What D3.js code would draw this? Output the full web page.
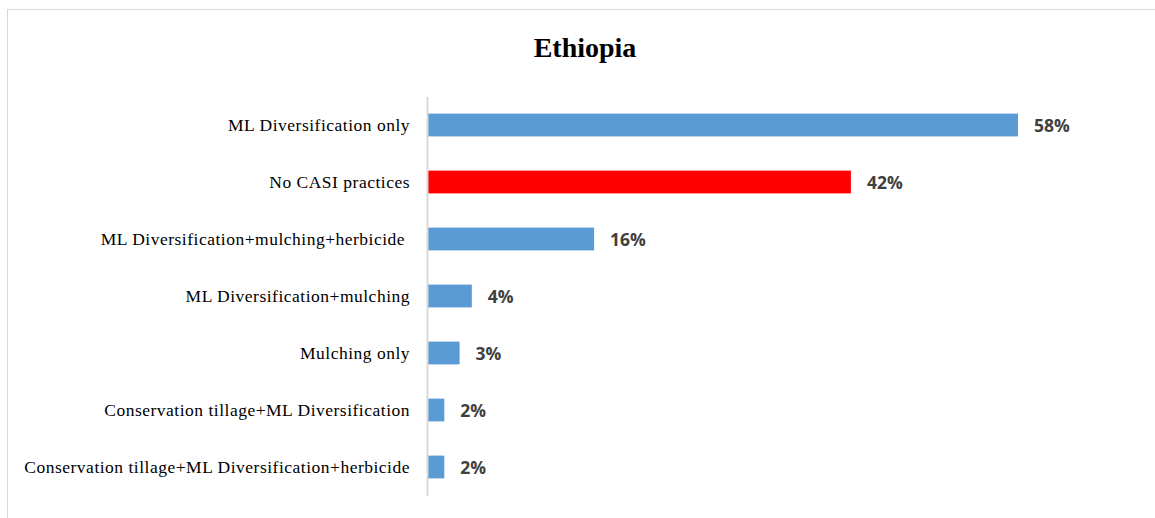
<!DOCTYPE html>
<html>
<head>
<meta charset="utf-8">
<script src="https://cdn.jsdelivr.net/npm/d3@7"></script>
<style>
  body { margin: 0; background: #fff; }
</style>
</head>
<body>
<svg id="chart" width="1155" height="518"></svg>
<script>
var categories = [
  "ML Diversification only",
  "No CASI practices",
  "ML Diversification+mulching+herbicide ",
  "ML Diversification+mulching",
  "Mulching only",
  "Conservation tillage+ML Diversification",
  "Conservation tillage+ML Diversification+herbicide"
];
var values = [58, 41.6, 16.4, 4.4, 3.2, 1.7, 1.7];
var valueLabels = ["58%", "42%", "16%", "4%", "3%", "2%", "2%"];
var barColors = ["#5b9bd5", "#ff0000", "#5b9bd5", "#5b9bd5", "#5b9bd5", "#5b9bd5", "#5b9bd5"];
var title = "Ethiopia";

var data = categories.map(function(c, i) {
  return { name: c, value: values[i], label: valueLabels[i], color: barColors[i] };
});

var svg = d3.select("#chart"),
    margin = {top: 96.5, right: 128, bottom: 22.5, left: 427},
    width = +svg.attr("width") - margin.left - margin.right,
    height = +svg.attr("height") - margin.top - margin.bottom;

// chart border
svg.append("rect")
    .attr("x", 7.5)
    .attr("y", 9.5)
    .attr("width", 1160)
    .attr("height", 520)
    .attr("fill", "#fff")
    .attr("stroke", "#d9d9d9")
    .attr("stroke-width", 1);

svg.append("text")
    .attr("x", 585)
    .attr("y", 57)
    .attr("text-anchor", "middle")
    .style("font-family", "'Liberation Serif', 'Times New Roman', serif")
    .style("font-weight", "bold")
    .style("font-size", "28px")
    .text(title);

var x = d3.scaleLinear().domain([0, 58]).range([0, 591]),
    y = d3.scaleBand().domain(categories).range([0, height]).paddingInner(0.6).paddingOuter(0.3);

var g = svg.append("g")
    .attr("transform", "translate(" + margin.left + "," + margin.top + ")");

// bars
g.selectAll(".bar")
    .data(data)
  .enter().append("rect")
    .attr("class", "bar")
    .attr("x", 0)
    .attr("y", function(d) { return y(d.name); })
    .attr("width", function(d) { return x(d.value); })
    .attr("height", y.bandwidth())
    .attr("fill", function(d) { return d.color; });

// value labels
g.selectAll(".val")
    .data(data)
  .enter().append("text")
    .attr("class", "val")
    .attr("x", function(d) { return x(d.value) + 16; })
    .attr("y", function(d) { return y(d.name) + y.bandwidth() / 2 + 1; })
    .attr("dy", "0.36em")
    .style("font-family", "'Open Sans', sans-serif")
    .style("font-weight", "bold")
    .style("font-size", "17.5px")
    .style("fill", "#404040")
    .text(function(d) { return d.label; });

// y axis
var yAxis = g.append("g")
    .call(d3.axisLeft(y).tickSize(0).tickPadding(17));
yAxis.select(".domain").attr("stroke", "#d9d9d9").attr("stroke-width", 2);
yAxis.selectAll("text")
    .style("font-family", "'Liberation Serif', 'Times New Roman', serif")
    .style("font-size", "17.5px")
    .style("letter-spacing", "0.5px")
    .style("fill", "#000")
    .attr("xml:space", "preserve");
</script>
</body>
</html>
